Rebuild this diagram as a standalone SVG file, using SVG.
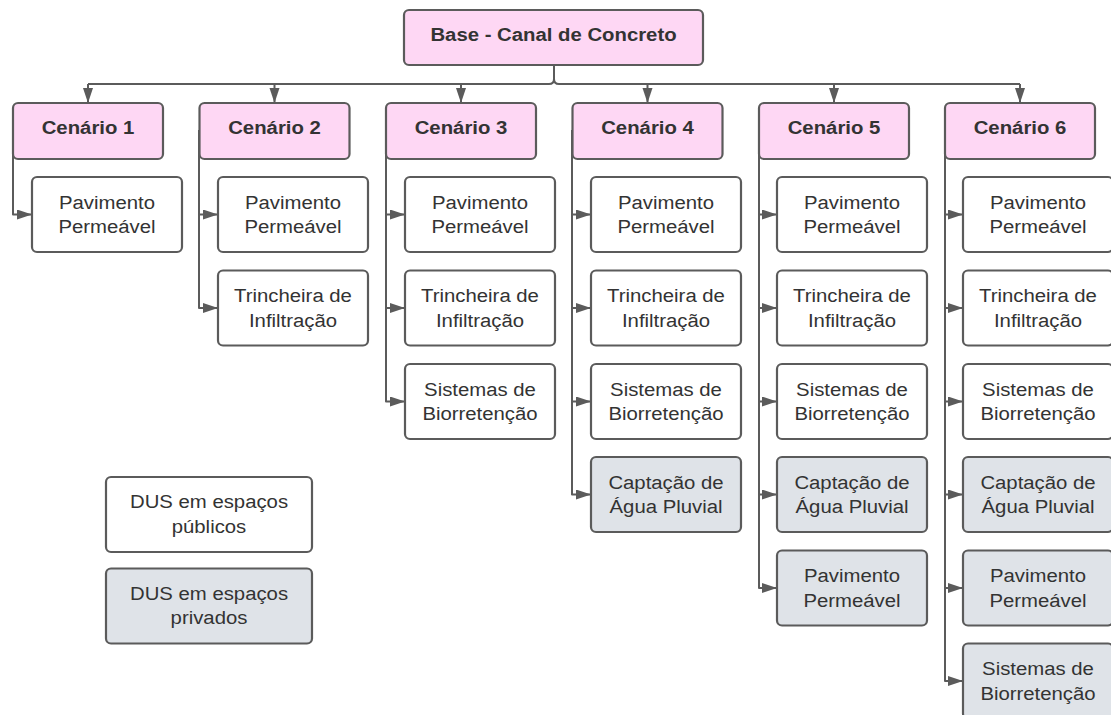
<svg xmlns="http://www.w3.org/2000/svg" width="1111" height="715" viewBox="0 0 1111 715">
<defs>
<marker id="ah" markerUnits="userSpaceOnUse" markerWidth="16" markerHeight="12" refX="15" refY="5" orient="auto">
<path d="M0,0 L15,5 L0,10 z" fill="#5b5b5b"/>
</marker>
<style>
.c{fill:none;stroke:#5b5b5b;stroke-width:2;stroke-linejoin:round}
.a{marker-end:url(#ah)}
.n rect{stroke:#5b5b5b;stroke-width:2.2}
.p rect{fill:#fed7f4}
.w rect{fill:#ffffff}
.g rect{fill:#dfe3e8}
text{font-family:"Liberation Sans",Arial,sans-serif;font-size:18px;fill:#333333;text-anchor:middle}
.b text{font-weight:bold}
</style>
</defs>
<rect width="1111" height="715" fill="#ffffff"/>
<g id="connectors">
<path class="c" d="M554,65 V79 Q554,84 549,84 H88"/>
<path class="c" d="M554,79 Q554,84 559,84 H1020"/>
<path class="c a" d="M88,84 V103"/>
<path class="c a" d="M274.5,84 V103"/>
<path class="c a" d="M461,84 V103"/>
<path class="c a" d="M647.5,84 V103"/>
<path class="c a" d="M834,84 V103"/>
<path class="c a" d="M1020,84 V103"/>
<!-- Cenário 1 -->
<path class="c a" d="M13,130 V214.5 H32"/>
<!-- Cenário 2 -->
<path class="c a" d="M199,130 V214.5 H218"/>
<path class="c a" d="M199,130 V308 H218"/>
<!-- Cenário 3 -->
<path class="c a" d="M386,130 V214.5 H405"/>
<path class="c a" d="M386,130 V308 H405"/>
<path class="c a" d="M386,130 V401.5 H405"/>
<!-- Cenário 4 -->
<path class="c a" d="M572,130 V214.5 H591"/>
<path class="c a" d="M572,130 V308 H591"/>
<path class="c a" d="M572,130 V401.5 H591"/>
<path class="c a" d="M572,130 V494.5 H591"/>
<!-- Cenário 5 -->
<path class="c a" d="M759,130 V214.5 H777"/>
<path class="c a" d="M759,130 V308 H777"/>
<path class="c a" d="M759,130 V401.5 H777"/>
<path class="c a" d="M759,130 V494.5 H777"/>
<path class="c a" d="M759,130 V588 H777"/>
<!-- Cenário 6 -->
<path class="c a" d="M945,130 V214.5 H963"/>
<path class="c a" d="M945,130 V308 H963"/>
<path class="c a" d="M945,130 V401.5 H963"/>
<path class="c a" d="M945,130 V494.5 H963"/>
<path class="c a" d="M945,130 V588 H963"/>
<path class="c a" d="M945,130 V681 H963"/>
</g>

<g id="base" class="n p b"><rect x="404" y="10" width="299" height="55" rx="5"/><text transform="translate(553.5,41) scale(1.13,1)">Base - Canal de Concreto</text></g>

<g id="cenario1" class="n p b"><rect x="13" y="103" width="150" height="56" rx="5"/><text transform="translate(88,134) scale(1.13,1)">Cenário 1</text></g>
<g id="cenario2" class="n p b"><rect x="199.5" y="103" width="150" height="56" rx="5"/><text transform="translate(274.5,134) scale(1.13,1)">Cenário 2</text></g>
<g id="cenario3" class="n p b"><rect x="386" y="103" width="150" height="56" rx="5"/><text transform="translate(461,134) scale(1.13,1)">Cenário 3</text></g>
<g id="cenario4" class="n p b"><rect x="572.5" y="103" width="150" height="56" rx="5"/><text transform="translate(647.5,134) scale(1.13,1)">Cenário 4</text></g>
<g id="cenario5" class="n p b"><rect x="759" y="103" width="150" height="56" rx="5"/><text transform="translate(834,134) scale(1.13,1)">Cenário 5</text></g>
<g id="cenario6" class="n p b"><rect x="945" y="103" width="150" height="56" rx="5"/><text transform="translate(1020,134) scale(1.13,1)">Cenário 6</text></g>

<!-- Cenário 1 children -->
<g id="c1-pav" class="n w"><rect x="32" y="177" width="150" height="75" rx="5"/><text transform="translate(107,208.5) scale(1.13,1)">Pavimento</text><text transform="translate(107,233) scale(1.13,1)">Permeável</text></g>

<!-- Cenário 2 children -->
<g id="c2-pav" class="n w"><rect x="218" y="177" width="150" height="75" rx="5"/><text transform="translate(293,208.5) scale(1.13,1)">Pavimento</text><text transform="translate(293,233) scale(1.13,1)">Permeável</text></g>
<g id="c2-tri" class="n w"><rect x="218" y="270.5" width="150" height="75" rx="5"/><text transform="translate(293,302) scale(1.13,1)">Trincheira de</text><text transform="translate(293,326.5) scale(1.13,1)">Infiltração</text></g>

<!-- Cenário 3 children -->
<g id="c3-pav" class="n w"><rect x="405" y="177" width="150" height="75" rx="5"/><text transform="translate(480,208.5) scale(1.13,1)">Pavimento</text><text transform="translate(480,233) scale(1.13,1)">Permeável</text></g>
<g id="c3-tri" class="n w"><rect x="405" y="270.5" width="150" height="75" rx="5"/><text transform="translate(480,302) scale(1.13,1)">Trincheira de</text><text transform="translate(480,326.5) scale(1.13,1)">Infiltração</text></g>
<g id="c3-bio" class="n w"><rect x="405" y="364" width="150" height="75" rx="5"/><text transform="translate(480,395.5) scale(1.13,1)">Sistemas de</text><text transform="translate(480,420) scale(1.13,1)">Biorretenção</text></g>

<!-- Cenário 4 children -->
<g id="c4-pav" class="n w"><rect x="591" y="177" width="150" height="75" rx="5"/><text transform="translate(666,208.5) scale(1.13,1)">Pavimento</text><text transform="translate(666,233) scale(1.13,1)">Permeável</text></g>
<g id="c4-tri" class="n w"><rect x="591" y="270.5" width="150" height="75" rx="5"/><text transform="translate(666,302) scale(1.13,1)">Trincheira de</text><text transform="translate(666,326.5) scale(1.13,1)">Infiltração</text></g>
<g id="c4-bio" class="n w"><rect x="591" y="364" width="150" height="75" rx="5"/><text transform="translate(666,395.5) scale(1.13,1)">Sistemas de</text><text transform="translate(666,420) scale(1.13,1)">Biorretenção</text></g>
<g id="c4-cap" class="n g"><rect x="591" y="457" width="150" height="75" rx="5"/><text transform="translate(666,488.5) scale(1.13,1)">Captação de</text><text transform="translate(666,513) scale(1.13,1)">Água Pluvial</text></g>

<!-- Cenário 5 children -->
<g id="c5-pav" class="n w"><rect x="777" y="177" width="150" height="75" rx="5"/><text transform="translate(852,208.5) scale(1.13,1)">Pavimento</text><text transform="translate(852,233) scale(1.13,1)">Permeável</text></g>
<g id="c5-tri" class="n w"><rect x="777" y="270.5" width="150" height="75" rx="5"/><text transform="translate(852,302) scale(1.13,1)">Trincheira de</text><text transform="translate(852,326.5) scale(1.13,1)">Infiltração</text></g>
<g id="c5-bio" class="n w"><rect x="777" y="364" width="150" height="75" rx="5"/><text transform="translate(852,395.5) scale(1.13,1)">Sistemas de</text><text transform="translate(852,420) scale(1.13,1)">Biorretenção</text></g>
<g id="c5-cap" class="n g"><rect x="777" y="457" width="150" height="75" rx="5"/><text transform="translate(852,488.5) scale(1.13,1)">Captação de</text><text transform="translate(852,513) scale(1.13,1)">Água Pluvial</text></g>
<g id="c5-pavp" class="n g"><rect x="777" y="550.5" width="150" height="75" rx="5"/><text transform="translate(852,582) scale(1.13,1)">Pavimento</text><text transform="translate(852,606.5) scale(1.13,1)">Permeável</text></g>

<!-- Cenário 6 children -->
<g id="c6-pav" class="n w"><rect x="963" y="177" width="150" height="75" rx="5"/><text transform="translate(1038,208.5) scale(1.13,1)">Pavimento</text><text transform="translate(1038,233) scale(1.13,1)">Permeável</text></g>
<g id="c6-tri" class="n w"><rect x="963" y="270.5" width="150" height="75" rx="5"/><text transform="translate(1038,302) scale(1.13,1)">Trincheira de</text><text transform="translate(1038,326.5) scale(1.13,1)">Infiltração</text></g>
<g id="c6-bio" class="n w"><rect x="963" y="364" width="150" height="75" rx="5"/><text transform="translate(1038,395.5) scale(1.13,1)">Sistemas de</text><text transform="translate(1038,420) scale(1.13,1)">Biorretenção</text></g>
<g id="c6-cap" class="n g"><rect x="963" y="457" width="150" height="75" rx="5"/><text transform="translate(1038,488.5) scale(1.13,1)">Captação de</text><text transform="translate(1038,513) scale(1.13,1)">Água Pluvial</text></g>
<g id="c6-pavp" class="n g"><rect x="963" y="550.5" width="150" height="75" rx="5"/><text transform="translate(1038,582) scale(1.13,1)">Pavimento</text><text transform="translate(1038,606.5) scale(1.13,1)">Permeável</text></g>
<g id="c6-biop" class="n g"><rect x="963" y="643.5" width="150" height="75" rx="5"/><text transform="translate(1038,675) scale(1.13,1)">Sistemas de</text><text transform="translate(1038,699.5) scale(1.13,1)">Biorretenção</text></g>

<!-- Legend -->
<g id="legend-public" class="n w"><rect x="106" y="477" width="206" height="75" rx="5"/><text transform="translate(209,508) scale(1.13,1)">DUS em espaços</text><text transform="translate(209,532.5) scale(1.13,1)">públicos</text></g>
<g id="legend-private" class="n g"><rect x="106" y="568.5" width="206" height="75" rx="5"/><text transform="translate(209,599.5) scale(1.13,1)">DUS em espaços</text><text transform="translate(209,624) scale(1.13,1)">privados</text></g>
</svg>
